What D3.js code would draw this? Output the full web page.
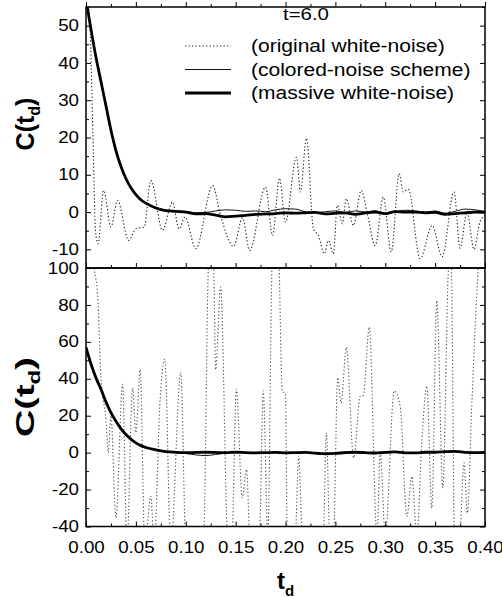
<!DOCTYPE html>
<html><head><meta charset="utf-8">
<script src="https://cdn.jsdelivr.net/npm/d3@7"></script>
<style>body{margin:0;background:#fff} text{font-family:"Liberation Sans",Arial,sans-serif;fill:#000}</style>
</head><body><svg id="c" width="502" height="597"></svg>
<script>
// ---------- data ----------
const decayT = [0,0.005,0.01,0.015,0.02,0.025,0.03,0.035,0.04,0.045,0.05,0.055,0.06,0.07,0.08,0.09,0.10,0.11,0.12,0.13,0.14,0.15,0.16,0.17,0.18,0.19,0.20,0.21,0.22,0.23,0.24,0.25,0.26,0.27,0.28,0.29,0.30,0.31,0.32,0.33,0.34,0.35,0.36,0.37,0.38,0.39,0.40];
const topMassive = [57,49,41.5,35,28.5,22,16.5,12.3,9,6.5,4.7,3.3,2.4,1.1,0.4,0.2,0.0,-0.5,-0.4,-0.8,-1.3,-1.1,-0.9,-0.6,-0.5,-0.4,-0.2,-0.3,-0.2,-0.1,-0.5,-0.3,-0.2,-0.6,-0.2,0.0,-0.4,0.1,0.0,0.0,-0.2,-0.1,-0.6,-0.4,-0.2,0.0,-0.1];
const topColored = [57,49.5,42,35.5,28,21.5,16,12,8.8,6.3,4.6,3.3,2.4,1.2,0.5,0.3,0.2,-0.2,-0.1,0.3,0.6,0.5,0.2,0.3,0.1,0.6,0.9,0.8,0.1,-0.2,0.1,0.3,-0.1,0.3,0.0,0.4,-0.6,0.1,0.5,0.3,0.0,0.3,-0.3,0.2,0.8,0.6,0.2];
const topWhiteT = [0,0.004,0.007,0.0095,0.012,0.0177,0.025,0.0317,0.0427,0.05,0.0583,0.065,0.0767,0.0867,0.0933,0.0993,0.11,0.127,0.135,0.148,0.157,0.164,0.18,0.187,0.194,0.2,0.211,0.215,0.221,0.228,0.233,0.239,0.243,0.248,0.252,0.257,0.261,0.268,0.276,0.282,0.29,0.298,0.306,0.314,0.318,0.323,0.335,0.347,0.357,0.369,0.375,0.382,0.389,0.395,0.40];
const topWhite = [60,50,20,-5,-8.5,5.8,-4,3.1,-7.6,-4.5,-4.0,8.5,-4.9,2.7,-4.5,-1.3,-9.8,7.1,-1,-9.2,-1.5,-10.3,6.7,-6.3,9.1,-2.7,14.7,5.4,19.8,-4.5,-6.3,-11.2,-7.6,-11.2,1.8,-3.1,3.6,-3.6,5.8,-0.4,-9,4,-10.7,10.3,5.4,6.2,-12.5,-3.6,-12,5.4,-9.7,0,-10,-2.6,-1];
const botMassive = [57,48,40.5,34.4,27.5,21.7,17,13,9.8,7.3,5.3,3.8,2.8,1.5,0.6,0.2,0.0,0.1,0.2,0.1,0.0,0.2,0.0,-0.1,0.0,0.1,-0.1,0.0,0.1,-0.3,-0.6,-0.4,0.0,0.2,0.0,-0.2,0.1,0.4,-0.1,-0.1,0.2,0.2,0.5,0.7,0.2,0.0,0.1];
const botColored = [57,48.5,41,34,27,21.5,16.5,12.8,9.6,7,5.1,3.6,2.6,1.2,0.3,-0.1,-0.5,-1.2,-1.6,-1.0,-0.3,0.3,0.2,-0.5,-0.2,0.3,0.1,-0.2,0.2,-0.6,-1.0,-0.3,0.4,0.1,-0.2,0.0,0.4,0.6,0.0,-0.4,0.1,0.3,0.2,0.8,0.4,-0.2,0.0];
const botWhiteT = [0,0.008,0.0117,0.015,0.02,0.0223,0.025,0.03,0.0367,0.041,0.0467,0.05,0.0543,0.059,0.065,0.0683,0.0743,0.079,0.085,0.095,0.1,0.109,0.118,0.123,0.126,0.128,0.13,0.135,0.1417,0.144,0.1467,0.1507,0.1567,0.161,0.164,0.169,0.174,0.1777,0.1823,0.1867,0.19,0.1933,0.1967,0.2,0.2017,0.206,0.21,0.2133,0.2167,0.227,0.238,0.241,0.2443,0.248,0.2523,0.2557,0.261,0.2683,0.275,0.278,0.284,0.2917,0.295,0.3,0.309,0.315,0.3217,0.3267,0.3317,0.3367,0.3417,0.3467,0.3517,0.3577,0.3633,0.366,0.3693,0.372,0.375,0.379,0.3823,0.3867,0.3933,0.40];
const botWhite = [130,100,85,40.7,18,0,20,-35.4,37,-50,35,10.8,45,-50,-23.6,-50,29,50.7,-50,43.5,-50,-70,-45,105,115,102,45,89.7,-45,-60,-45,34.4,-24.5,-9.1,-45,-60,-45,33.5,-45,105,120,105,33.5,31.7,-45,-60,-45,-1.9,-45,-80,-45,10.8,-45,-50,40.7,27,57,-2.8,30.7,31,68,-45,0,-45,33.5,25,-34.5,-12.8,-45,6.3,36,-30,82.4,-19,98.7,110,-45,-60,-45,-5.5,-32.7,25,99.6,125];
const xTicksMajor = [0,0.05,0.10,0.15,0.20,0.25,0.30,0.35,0.40];
const xTicksMinor = [0.025,0.075,0.125,0.175,0.225,0.275,0.325,0.375];
const topYMajor = [-10,0,10,20,30,40,50];
const topYMinor = [-15,-5,5,15,25,35,45,55];
const botYMajor = [-40,-20,0,20,40,60,80,100];
const botYMinor = [-30,-10,10,30,50,70,90];
const legendTitle = "t=6.0";
const legendLabels = ["(original white-noise)","(colored-noise scheme)","(massive white-noise)"];

// ---------- layout ----------
const svg = d3.select("#c");
const L = 86, R = 485;
const topY0 = 7, midY = 268, botY1 = 526.5;
const x = d3.scaleLinear().domain([0,0.4]).range([L,R]);
const yT = d3.scaleLinear().domain([-15,55]).range([midY,topY0]);
const yB = d3.scaleLinear().domain([-40,100]).range([botY1,midY]);
const STR = 1.2;
function stretch(sel,f){ sel.each(function(){ const n=this.getComputedTextLength(); this.setAttribute("textLength", n*f); this.setAttribute("lengthAdjust","spacingAndGlyphs"); }); }

const defs = svg.append("defs");
defs.append("clipPath").attr("id","cpT").append("rect").attr("x",L).attr("y",topY0).attr("width",R-L).attr("height",midY-topY0);
defs.append("clipPath").attr("id","cpB").append("rect").attr("x",L).attr("y",midY).attr("width",R-L).attr("height",botY1-midY);

const styles = {
  white:{stroke:"#222",w:1.1,dash:"1.3,2.2"},
  colored:{stroke:"#111",w:1,dash:null},
  massive:{stroke:"#000",w:2.8,dash:null}
};
function drawPanel(y, clip, massive, colored, wT, white, whiteStroke){
  const g = svg.append("g").attr("clip-path",`url(#${clip})`);
  const ln = d3.line().x(d=>x(d[0])).y(d=>y(d[1])).curve(d3.curveMonotoneX);
  g.append("path").datum(d3.zip(wT,white)).attr("d",ln).attr("fill","none")
    .attr("stroke",whiteStroke).attr("stroke-width",styles.white.w).attr("stroke-dasharray",styles.white.dash);
  g.append("path").datum(d3.zip(decayT,colored)).attr("d",ln).attr("fill","none")
    .attr("stroke",styles.colored.stroke).attr("stroke-width",styles.colored.w);
  g.append("path").datum(d3.zip(decayT,massive)).attr("d",ln).attr("fill","none")
    .attr("stroke",styles.massive.stroke).attr("stroke-width",styles.massive.w).attr("stroke-linejoin","round");
}
drawPanel(yT,"cpT",topMassive,topColored,topWhiteT,topWhite,"#222");
drawPanel(yB,"cpB",botMassive,botColored,botWhiteT,botWhite,"#555");

// ---------- axes ----------
function tickAxis(axis, tr, vals, size, fmt, pad){
  const a = axis.tickValues(vals).tickSize(size).tickPadding(pad||6).tickFormat(fmt||"");
  const g = svg.append("g").attr("transform",tr).call(a);
  g.select(".domain").remove();
  g.selectAll("line").attr("stroke","#000").attr("stroke-width",1);
  return g;
}
const yFmt = d=>String(d);
// top panel
const gyT = tickAxis(d3.axisLeft(yT),`translate(${L},0)`,topYMajor,-5,yFmt,7);
tickAxis(d3.axisLeft(yT),`translate(${L},0)`,topYMinor,-3);
tickAxis(d3.axisRight(yT),`translate(${R},0)`,topYMajor,-5);
tickAxis(d3.axisRight(yT),`translate(${R},0)`,topYMinor,-3);
tickAxis(d3.axisTop(x),`translate(0,${midY})`,xTicksMajor,5);
tickAxis(d3.axisTop(x),`translate(0,${midY})`,xTicksMinor,3);
tickAxis(d3.axisBottom(x),`translate(0,${topY0})`,xTicksMajor,-5);
tickAxis(d3.axisBottom(x),`translate(0,${topY0})`,xTicksMinor,-3);
// bottom panel
const gyB = tickAxis(d3.axisLeft(yB),`translate(${L},0)`,botYMajor,-5,yFmt,7);
tickAxis(d3.axisLeft(yB),`translate(${L},0)`,botYMinor,-3);
tickAxis(d3.axisRight(yB),`translate(${R},0)`,botYMajor,-5);
tickAxis(d3.axisRight(yB),`translate(${R},0)`,botYMinor,-3);
const gx = tickAxis(d3.axisBottom(x),`translate(0,${botY1})`,xTicksMajor,-5,d3.format(".2f"),15);
tickAxis(d3.axisBottom(x),`translate(0,${botY1})`,xTicksMinor,-3);

[gyT,gyB,gx].forEach(g=>{
  g.selectAll("text").attr("font-family",'"Liberation Sans",Arial,sans-serif').attr("font-size",16).attr("fill","#000");
  stretch(g.selectAll("text"),1.17);
});

// frames
svg.append("rect").attr("x",L).attr("y",topY0).attr("width",R-L).attr("height",midY-topY0).attr("fill","none").attr("stroke","#000").attr("stroke-width",1.5);
svg.append("rect").attr("x",L).attr("y",midY).attr("width",R-L).attr("height",botY1-midY).attr("fill","none").attr("stroke","#000").attr("stroke-width",1.5);

// ---------- legend ----------
const lg = svg.append("g");
const tt = lg.append("text").attr("x",283).attr("y",20).attr("font-size",17).text(legendTitle);
stretch(tt,STR);
const keys = ["white","colored","massive"];
legendLabels.forEach((lab,i)=>{
  const yy = 46 + i*23.5;
  const s = styles[keys[i]];
  lg.append("line").attr("x1",185).attr("x2",231).attr("y1",yy).attr("y2",yy)
    .attr("stroke",s.stroke).attr("stroke-width",s.w).attr("stroke-dasharray",s.dash);
  const t = lg.append("text").attr("x",251).attr("y",yy+6).attr("font-size",17.5).text(lab);
  stretch(t,STR);
});

// ---------- axis titles ----------
function yTitle(cx, cy, len){
  const t = svg.append("text").attr("transform",`translate(${cx},${cy}) rotate(-90)`)
    .attr("text-anchor","middle").attr("font-size",25).attr("font-weight","bold");
  t.append("tspan").text("C(t");
  t.append("tspan").attr("font-size",16).attr("dy",6).text("d");
  t.append("tspan").attr("dy",-6).text(")");
  if(len){ t.attr("textLength",len).attr("lengthAdjust","spacingAndGlyphs"); }
  return t;
}
yTitle(34,124);
yTitle(34,397,80);
const xt = svg.append("text").attr("x",277).attr("y",589).attr("font-size",24).attr("font-weight","bold");
xt.append("tspan").text("t");
xt.append("tspan").attr("font-size",15).attr("dy",7).text("d");
</script></body></html>
